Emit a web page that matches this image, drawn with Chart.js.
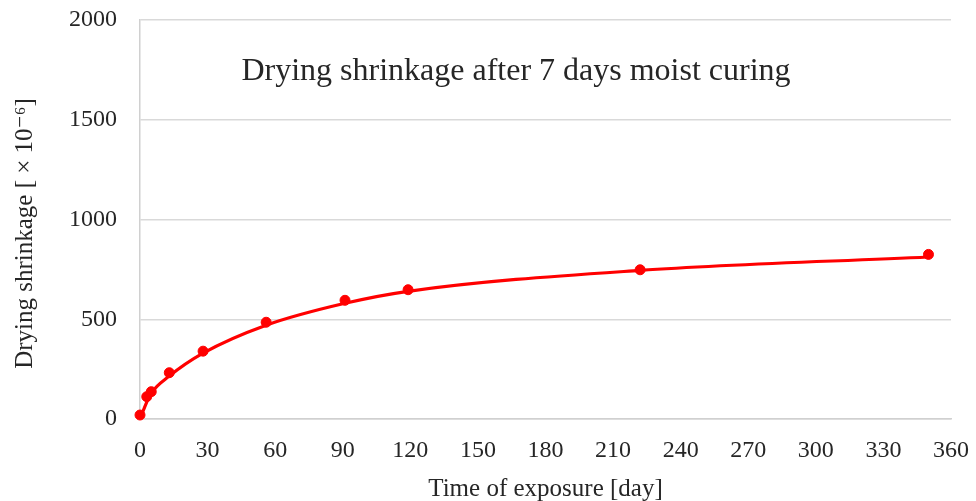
<!DOCTYPE html>
<html>
<head>
<meta charset="utf-8">
<script src="https://cdn.jsdelivr.net/npm/chart.js@4"></script>
<style>
    html, body { margin: 0; padding: 0; background: #fff; }
    #wrap { width: 976px; height: 501px; }
</style>
</head>
<body>
<div id="wrap"><canvas id="shrinkChart" width="976" height="501"></canvas></div>
<script>
// measured points
const measuredDays = [0, 3, 5, 13, 28, 56, 91, 119, 222, 350];
const measuredShrinkage = [20, 112, 137, 232, 340, 485, 595, 648, 748, 825];

// fitted curve
const fitDays = [0, 3, 5, 13, 28, 56, 91, 119, 222, 350];
const fitShrinkage = [0, 85, 130, 215, 330, 470, 580, 640, 745, 812];

const xTicks = [0, 30, 60, 90, 120, 150, 180, 210, 240, 270, 300, 330, 360];
const yTicks = [0, 500, 1000, 1500, 2000];

const chartTitle = 'Drying shrinkage after 7 days moist curing';
const xTitle = 'Time of exposure [day]';
const yTitle = 'Drying shrinkage [ × 10⁻⁶]';

const serif = "'Liberation Serif', 'DejaVu Serif', serif";
const textColor = '#262626';

const toPoints = (xs, ys) => xs.map((x, i) => ({ x: x, y: ys[i] }));

// chart title inside the plot area + y title (sits a bit below centre in the original)
const extraText = {
    id: 'extraText',
    afterDraw(chart) {
        const { ctx, chartArea } = chart;
        ctx.save();
        ctx.fillStyle = textColor;
        ctx.textAlign = 'center';
        ctx.textBaseline = 'middle';
        ctx.font = `32px ${serif}`;
        ctx.fillText(chartTitle, chartArea.left + 376, chartArea.top + 52);

        ctx.font = `25px ${serif}`;
        ctx.translate(25, (chartArea.top + chartArea.bottom) / 2 + 14);
        ctx.rotate(-Math.PI / 2);
        ctx.fillText(yTitle, 0, 0);
        ctx.restore();
    }
};

new Chart(document.getElementById('shrinkChart'), {
    type: 'scatter',
    data: {
        datasets: [{
            label: 'Fit',
            data: toPoints(fitDays, fitShrinkage),
            showLine: true,
            borderColor: '#ff0000',
            borderWidth: 3.2,
            pointRadius: 0,
            cubicInterpolationMode: 'monotone',
            clip: false
        }, {
            label: 'Measured',
            data: toPoints(measuredDays, measuredShrinkage),
            showLine: false,
            backgroundColor: '#ff0000',
            borderColor: '#ff0000',
            pointRadius: 5,
            clip: false
        }]
    },
    options: {
        responsive: false,
        animation: false,
        layout: { padding: { top: 20, right: 25, bottom: 0, left: 0 } },
        plugins: { legend: { display: false }, tooltip: { enabled: false } },
        scales: {
            x: {
                type: 'linear',
                min: 0,
                max: 360,
                afterBuildTicks: (scale) => { scale.ticks = xTicks.map(v => ({ value: v })); },
                afterFit: (scale) => {
                    scale.height = 82;
                    scale.paddingLeft = 0;
                    scale.paddingRight = 0;
                },
                grid: { display: false, drawTicks: false },
                border: { display: true, color: '#d0d0d0', width: 1.5 },
                ticks: { padding: 17, color: textColor, font: { family: serif, size: 24 }, callback: v => String(v) },
                title: {
                    display: true,
                    text: xTitle,
                    color: textColor,
                    font: { family: serif, size: 25, lineHeight: 0.96 },
                    padding: { top: 0, bottom: 0 }
                }
            },
            y: {
                min: 0,
                max: 2000,
                afterBuildTicks: (scale) => { scale.ticks = yTicks.map(v => ({ value: v })); },
                afterFit: (scale) => {
                    scale.width = 140;
                    scale.paddingTop = 0;
                    scale.paddingBottom = 0;
                },
                grid: { color: '#d9d9d9', lineWidth: 1.5, drawTicks: false },
                border: { display: true, color: '#d0d0d0', width: 1.5 },
                ticks: { padding: 23, color: textColor, font: { family: serif, size: 24 }, callback: v => String(v) }
            }
        }
    },
    plugins: [extraText]
});
</script>
</body>
</html>
